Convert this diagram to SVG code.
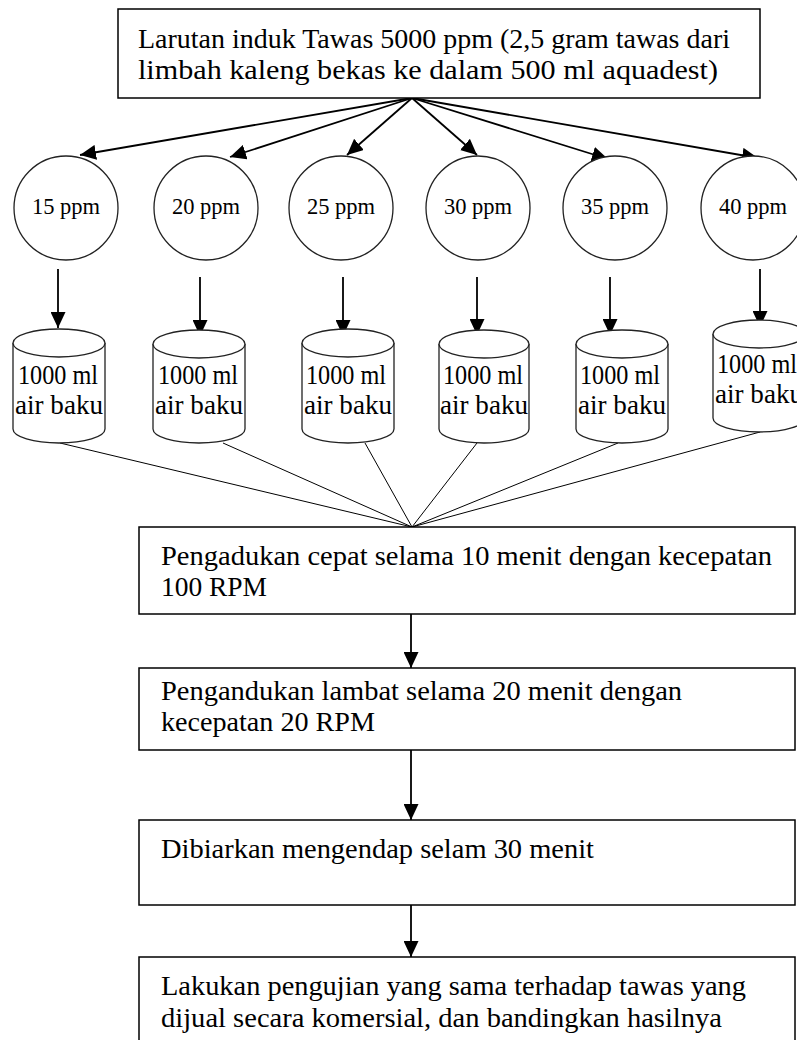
<svg xmlns="http://www.w3.org/2000/svg" width="797" height="1040" viewBox="0 0 797 1040">
<style>
  .box { fill: #fff; stroke: #000; stroke-width: 1.5; }
  .circ { fill: #fff; stroke: #222; stroke-width: 1.3; }
  .cyl { fill: #fff; stroke: #222; stroke-width: 1.3; }
  .t { font-family: "Liberation Serif", "Times New Roman", serif; fill: #000; }
  .big { font-size: 27px; }
  .mid { font-size: 27px; text-anchor: middle; }
  .sm { font-size: 22.5px; text-anchor: middle; }
  .arr { stroke: #000; stroke-width: 1.8; fill: none; marker-end: url(#ah); }
  .thin { stroke: #000; stroke-width: 1; fill: none; }
</style>
<defs>
  <marker id="ah" markerUnits="userSpaceOnUse" markerWidth="16" markerHeight="15" viewBox="0 0 16 15" refX="16" refY="7.5" orient="auto">
    <path d="M0,0 L16,7.5 L0,15 Z" fill="#000"/>
  </marker>
</defs>
<rect width="797" height="1040" fill="#fff"/>

<g id="connectors">
  <line class="arr" x1="412" y1="98" x2="80" y2="155"/>
  <line class="arr" x1="412" y1="98" x2="230" y2="157"/>
  <line class="arr" x1="412" y1="98" x2="347" y2="155"/>
  <line class="arr" x1="412" y1="98" x2="477" y2="155"/>
  <line class="arr" x1="412" y1="98" x2="608" y2="159"/>
  <line class="arr" x1="412" y1="98" x2="758" y2="158"/>

  <line class="arr" x1="58" y1="269" x2="58" y2="328"/>
  <line class="arr" x1="200" y1="277" x2="200" y2="336"/>
  <line class="arr" x1="343" y1="277" x2="343" y2="336"/>
  <line class="arr" x1="477" y1="277" x2="477" y2="335"/>
  <line class="arr" x1="610" y1="277" x2="610" y2="335"/>
  <line class="arr" x1="760" y1="269" x2="760" y2="327"/>

  <line class="thin" x1="60" y1="443" x2="412" y2="527"/>
  <line class="thin" x1="223" y1="443" x2="412" y2="527"/>
  <line class="thin" x1="365" y1="443" x2="412" y2="527"/>
  <line class="thin" x1="477" y1="443" x2="412" y2="527"/>
  <line class="thin" x1="618" y1="443" x2="412" y2="527"/>
  <line class="thin" x1="760" y1="432" x2="412" y2="527"/>

  <line class="arr" x1="411" y1="614" x2="411" y2="668"/>
  <line class="arr" x1="411" y1="750" x2="411" y2="820"/>
  <line class="arr" x1="411" y1="905" x2="411" y2="957"/>
</g>

<g id="n-top">
  <rect class="box" x="118" y="9" width="642" height="89"/>
  <text class="t big" x="138" y="48" textLength="592" lengthAdjust="spacingAndGlyphs">Larutan induk Tawas 5000 ppm (2,5 gram tawas dari</text>
  <text class="t big" x="138" y="79" textLength="580" lengthAdjust="spacingAndGlyphs">limbah kaleng bekas ke dalam 500 ml aquadest)</text>
</g>

<g id="n-15"><circle class="circ" cx="66" cy="208" r="52"/><text class="t sm" x="66" y="214">15 ppm</text></g>
<g id="n-20"><circle class="circ" cx="206" cy="208" r="52"/><text class="t sm" x="206" y="214">20 ppm</text></g>
<g id="n-25"><circle class="circ" cx="341" cy="208" r="52"/><text class="t sm" x="341" y="214">25 ppm</text></g>
<g id="n-30"><circle class="circ" cx="478" cy="208" r="52"/><text class="t sm" x="478" y="214">30 ppm</text></g>
<g id="n-35"><circle class="circ" cx="615" cy="208" r="52"/><text class="t sm" x="615" y="214">35 ppm</text></g>
<g id="n-40"><circle class="circ" cx="753" cy="208" r="52"/><text class="t sm" x="753" y="214">40 ppm</text></g>

<g id="c-1">
  <path class="cyl" d="M13,343 L13,429 A46,14 0 0 0 105,429 L105,343"/>
  <ellipse class="cyl" cx="59" cy="343" rx="46" ry="14"/>
  <text class="t mid" x="58" y="384" textLength="80" lengthAdjust="spacingAndGlyphs">1000 ml</text>
  <text class="t mid" x="59" y="414" textLength="88" lengthAdjust="spacingAndGlyphs">air baku</text>
</g>
<g id="c-2">
  <path class="cyl" d="M153,344 L153,429 A46,14 0 0 0 245,429 L245,344"/>
  <ellipse class="cyl" cx="199" cy="344" rx="46" ry="14"/>
  <text class="t mid" x="198" y="384" textLength="80" lengthAdjust="spacingAndGlyphs">1000 ml</text>
  <text class="t mid" x="199" y="414" textLength="88" lengthAdjust="spacingAndGlyphs">air baku</text>
</g>
<g id="c-3">
  <path class="cyl" d="M302,343 L302,429 A46,14 0 0 0 394,429 L394,343"/>
  <ellipse class="cyl" cx="348" cy="343" rx="46" ry="14"/>
  <text class="t mid" x="346" y="384" textLength="80" lengthAdjust="spacingAndGlyphs">1000 ml</text>
  <text class="t mid" x="348" y="414" textLength="88" lengthAdjust="spacingAndGlyphs">air baku</text>
</g>
<g id="c-4">
  <path class="cyl" d="M439,344 L439,429 A45,14 0 0 0 529,429 L529,344"/>
  <ellipse class="cyl" cx="484" cy="344" rx="45" ry="14"/>
  <text class="t mid" x="483" y="384" textLength="80" lengthAdjust="spacingAndGlyphs">1000 ml</text>
  <text class="t mid" x="484" y="414" textLength="88" lengthAdjust="spacingAndGlyphs">air baku</text>
</g>
<g id="c-5">
  <path class="cyl" d="M576,344 L576,429 A46,14 0 0 0 668,429 L668,344"/>
  <ellipse class="cyl" cx="622" cy="344" rx="46" ry="14"/>
  <text class="t mid" x="620" y="384" textLength="80" lengthAdjust="spacingAndGlyphs">1000 ml</text>
  <text class="t mid" x="622" y="414" textLength="88" lengthAdjust="spacingAndGlyphs">air baku</text>
</g>
<g id="c-6">
  <path class="cyl" d="M713,334 L713,418 A46,14 0 0 0 805,418 L805,334"/>
  <ellipse class="cyl" cx="759" cy="334" rx="46" ry="14"/>
  <text class="t mid" x="757" y="373" textLength="80" lengthAdjust="spacingAndGlyphs">1000 ml</text>
  <text class="t mid" x="759" y="403" textLength="88" lengthAdjust="spacingAndGlyphs">air baku</text>
</g>

<g id="n-cepat">
  <rect class="box" x="139" y="527" width="656" height="87"/>
  <text class="t big" x="161" y="565" textLength="611" lengthAdjust="spacingAndGlyphs">Pengadukan cepat selama 10 menit dengan kecepatan</text>
  <text class="t big" x="161" y="596" textLength="106" lengthAdjust="spacingAndGlyphs">100 RPM</text>
</g>
<g id="n-lambat">
  <rect class="box" x="139" y="668" width="656" height="82"/>
  <text class="t big" x="161" y="700" textLength="521" lengthAdjust="spacingAndGlyphs">Pengandukan lambat selama 20 menit dengan</text>
  <text class="t big" x="161" y="731" textLength="214" lengthAdjust="spacingAndGlyphs">kecepatan 20 RPM</text>
</g>
<g id="n-endap">
  <rect class="box" x="139" y="820" width="656" height="85"/>
  <text class="t big" x="161" y="858" textLength="433" lengthAdjust="spacingAndGlyphs">Dibiarkan mengendap selam 30 menit</text>
</g>
<g id="n-uji">
  <rect class="box" x="139" y="957" width="656" height="90"/>
  <text class="t big" x="161" y="995" textLength="585" lengthAdjust="spacingAndGlyphs">Lakukan pengujian yang sama terhadap tawas yang</text>
  <text class="t big" x="161" y="1027" textLength="561" lengthAdjust="spacingAndGlyphs">dijual secara komersial, dan bandingkan hasilnya</text>
</g>
</svg>
